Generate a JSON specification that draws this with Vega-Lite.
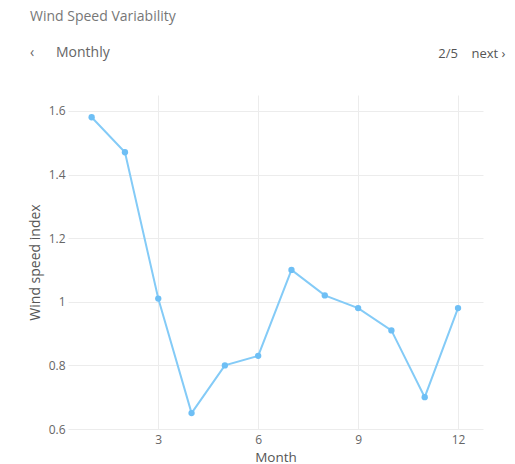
{
  "$schema": "https://vega.github.io/schema/vega-lite/v6.json",
  "width": 415,
  "height": 334,
  "autosize": "none",
  "padding": {"left": 68, "top": 95, "right": 32, "bottom": 35},
  "background": "white",
  "config": {
    "font": "Open Sans",
    "view": {"stroke": null},
    "axis": {"labelFont": "Open Sans", "titleFont": "Open Sans", "labelColor": "#666", "titleColor": "#555", "labelFontSize": 12, "titleFontSize": 14, "titleFontWeight": "normal", "gridColor": "#ececec", "gridWidth": 1, "domain": false, "ticks": false}
  },
  "title": {
    "text": "Wind Speed Variability",
    "subtitle": "‹\u00a0\u00a0\u00a0\u00a0\u00a0\u00a0Monthly",
    "anchor": "start",
    "frame": "group",
    "font": "Open Sans",
    "fontSize": 14,
    "fontWeight": "normal",
    "color": "#777",
    "subtitleFont": "Open Sans",
    "subtitleFontSize": 14,
    "subtitleColor": "#666",
    "subtitlePadding": 22,
    "dx": -38,
    "dy": 17,
    "offset": 4
  },
  "data": {
    "values": [
      {"month": 1, "index": 1.58},
      {"month": 2, "index": 1.47},
      {"month": 3, "index": 1.01},
      {"month": 4, "index": 0.65},
      {"month": 5, "index": 0.80},
      {"month": 6, "index": 0.83},
      {"month": 7, "index": 1.10},
      {"month": 8, "index": 1.02},
      {"month": 9, "index": 0.98},
      {"month": 10, "index": 0.91},
      {"month": 11, "index": 0.70},
      {"month": 12, "index": 0.98}
    ]
  },
  "layer": [
    {
      "mark": {"type": "line", "color": "#84cbf7", "strokeWidth": 2, "point": {"filled": true, "color": "#6ebff5", "size": 40, "opacity": 1}},
      "encoding": {
        "x": {"field": "month", "type": "quantitative", "scale": {"domain": [0.29, 12.75], "nice": false, "zero": false},
          "axis": {"orient": "bottom", "values": [3, 6, 9, 12], "title": "Month", "labelPadding": 5, "titlePadding": 5, "titleFontSize": 13.5, "grid": true}},
        "y": {"field": "index", "type": "quantitative", "scale": {"domain": [0.6, 1.65], "nice": false, "zero": false},
          "axis": {"values": [0.6, 0.8, 1.0, 1.2, 1.4, 1.6], "format": "~g", "title": "Wind speed index", "labelPadding": 3, "titlePadding": 6, "grid": true}}
      }
    },
    {
      "mark": {"type": "point", "opacity": 0},
      "encoding": {
        "x": {"field": "month", "type": "quantitative",
          "axis": {"orient": "top", "labels": false, "grid": false, "title": "2/5\u00a0\u00a0\u00a0\u00a0next\u00a0›", "titleX": 437, "titleY": -42, "titleAlign": "right", "titleBaseline": "middle", "titleAnchor": null, "titleFontSize": 13, "titleColor": "#555"}},
        "y": {"field": "index", "type": "quantitative"}
      }
    }
  ],
  "resolve": {"axis": {"x": "independent"}}
}
